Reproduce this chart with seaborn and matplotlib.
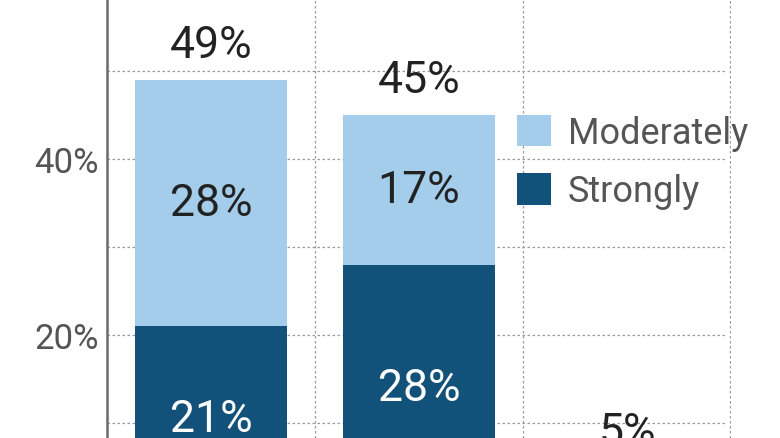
import matplotlib
matplotlib.use("Agg")
import matplotlib.pyplot as plt
import seaborn as sns
import pandas as pd
from matplotlib.patches import Patch

categories = ["A", "B", "C"]
strongly = [21, 28, 2]
moderately = [28, 17, 3]
totals = [49, 45, 5]
show_inner = [True, True, False]
yticks = [20, 40]
ytick_labels = ["20%", "40%"]

LIGHT = "#A3CDEA"
DARK = "#12527A"

sns.set_theme(style="white")
plt.rcParams["font.family"] = ["Roboto", "DejaVu Sans"]

fig = plt.figure(figsize=(7.8, 4.39), dpi=100)
ax = fig.add_axes([107 / 780, 0, 624 / 780, 1])

df = pd.DataFrame({"cat": categories, "strong": strongly, "moderate": moderately,
                   "total": [s + m for s, m in zip(strongly, moderately)]})

sns.barplot(data=df, x="cat", y="total", color=LIGHT, saturation=1, width=0.735,
            linewidth=0, ax=ax, zorder=3)
sns.barplot(data=df, x="cat", y="strong", color=DARK, saturation=1, width=0.735,
            linewidth=0, ax=ax, zorder=3)

ax.set_xlim(-0.5, 2.5)
ax.set_ylim(8.3, 58.2)

# grid
for y in [10, 20, 30, 40, 50]:
    ax.axhline(y, xmax=0.993, color="#9a9a9a", lw=0.9, ls=(0, (2, 2)), zorder=1)
for x in [0.5, 1.5, 2.495]:
    ax.axvline(x, color="#9a9a9a", lw=0.9, ls=(0, (2, 2)), zorder=1)

for sp in ["top", "right", "bottom"]:
    ax.spines[sp].set_visible(False)
ax.spines["left"].set_color("#6a6a6a")
ax.spines["left"].set_linewidth(1.8)

ax.set_xticks([])
ax.set_yticks(yticks)
ax.set_yticklabels(ytick_labels, fontsize=25, color="#555555")
ax.tick_params(axis="y", length=0, pad=6)
ax.set_xlabel("")
ax.set_ylabel("")

for i, (s, m, t) in enumerate(zip(strongly, moderately, totals)):
    ax.annotate(f"{t}%", (i, s + m), xytext=(0, 25), textcoords="offset points",
                ha="center", va="center", fontsize=32, color="#222222", zorder=5,
                annotation_clip=False)
    if show_inner[i]:
        ax.text(i, s / 2, f"{s}%", ha="center", va="center", fontsize=32, color="white", zorder=5)
        ax.text(i, s + m / 2, f"{m}%", ha="center", va="center", fontsize=32, color="#222222", zorder=5)

handles = [Patch(facecolor=LIGHT, edgecolor="none"), Patch(facecolor=DARK, edgecolor="none")]
leg = ax.legend(handles, ["Moderately", "Strongly"], loc="upper left",
                bbox_to_anchor=(410 / 624, 1 - 116 / 439), frameon=False,
                fontsize=26, handlelength=0.95, handleheight=0.95, labelspacing=0.62,
                handletextpad=0.45, borderpad=0, borderaxespad=0)
for t in leg.get_texts():
    t.set_color("#555555")

fig.savefig("out.png", dpi=100)
